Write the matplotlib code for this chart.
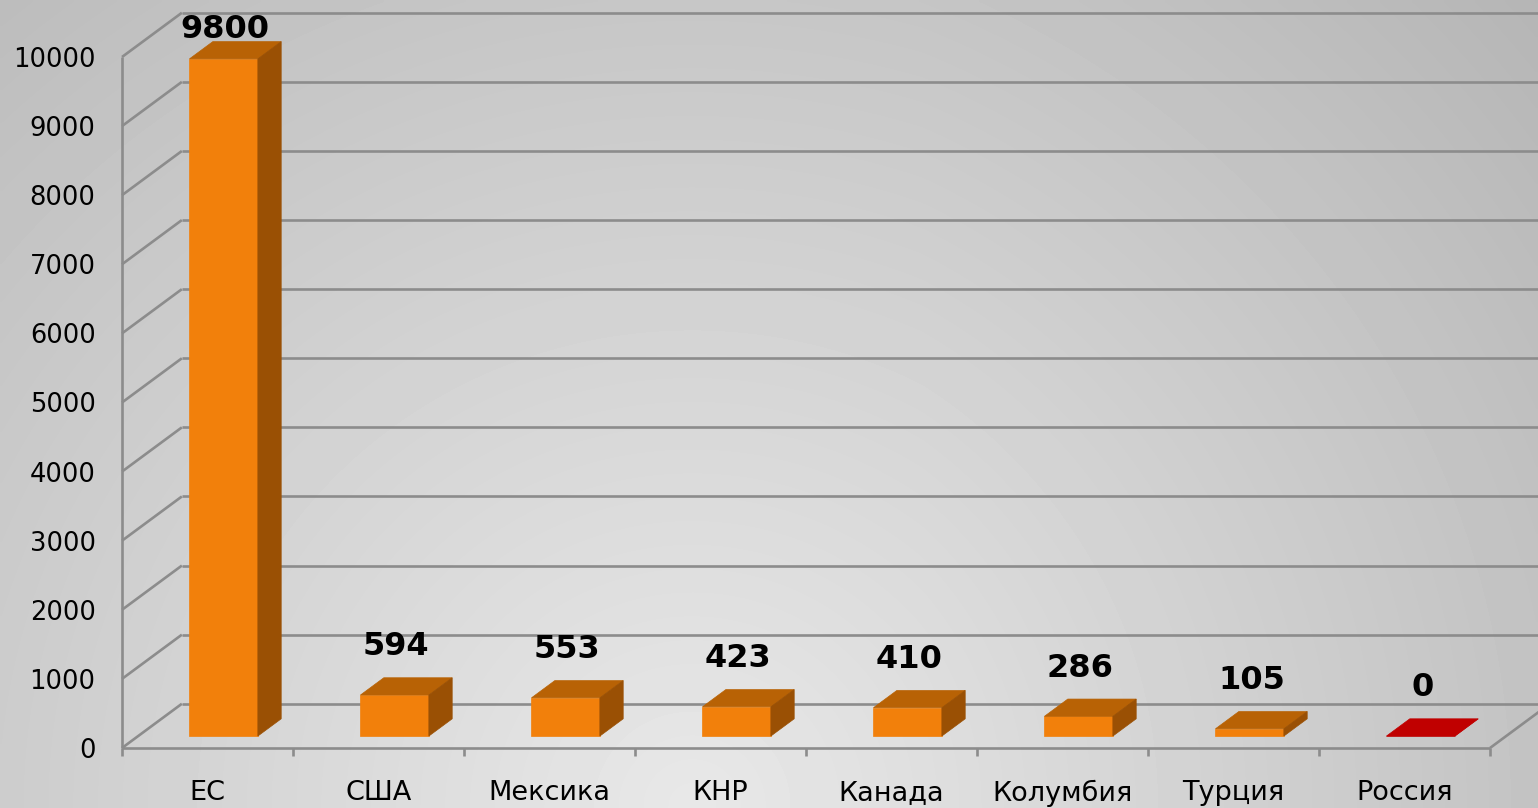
import matplotlib.pyplot as plt
import numpy as np
from matplotlib.patches import Polygon

categories = ['ЕС', 'США', 'Мексика', 'КНР', 'Канада', 'Колумбия', 'Турция', 'Россия']
values = [9800, 594, 553, 423, 410, 286, 105, 0]
yticks = [0, 1000, 2000, 3000, 4000, 5000, 6000, 7000, 8000, 9000, 10000]
highlight = 'Россия'

W, H = 1538, 808
fig = plt.figure(figsize=(W / 100, H / 100), dpi=100)

# фон с радиальным градиентом
bg = fig.add_axes([0, 0, 1, 1])
bg.axis('off')
yy, xx = np.mgrid[0:1:200j, 0:1:400j]
d = np.sqrt(((xx - 0.45) / 0.6) ** 2 + ((yy - 1.0) / 1.1) ** 2)
shade = np.clip(0.91 - 0.145 * d - 0.03 * np.clip(xx - 0.6, 0, 1), 0, 1)
bg.imshow(shade, cmap='gray', vmin=0, vmax=1, extent=[0, 1, 0, 1],
          aspect='auto', origin='upper', interpolation='bilinear')

ax = fig.add_axes([122 / W, (H - 748) / H, 1368 / W, 691 / H])
ax.set_xlim(0, len(categories))
ax.set_ylim(0, 10000)
ax.patch.set_alpha(0)
for s in ax.spines.values():
    s.set_visible(False)

# глубина "3D" в единицах данных
DX, DY = 0.35, 640
f0, f1 = 0.27, 0.66
bw = 0.4
grid_c = '#8c8c8c'
n = len(categories)

def line(xs, ys):
    ax.plot(xs, ys, color=grid_c, lw=1.9, clip_on=False, solid_capstyle='butt', zorder=1)

# задняя стенка и левая стенка
for v in yticks:
    line([DX, n + DX + 0.2], [v + DY, v + DY])
    line([0, DX], [v, v + DY])
line([0, 0], [0, yticks[-1]])
# пол
line([0, n], [0, 0])
line([n, n + DX], [0, DY])
for i in range(n + 1):
    line([i, i], [0, -120])

# столбцы
for i, (cat, v) in enumerate(zip(categories, values)):
    x0 = i + 0.5 - bw / 2 + f0 * DX
    x1 = x0 + bw
    y0 = f0 * DY
    ddx, ddy = (f1 - f0) * DX, (f1 - f0) * DY
    if cat == highlight:
        cols = ('#c00000', '#c00000', '#c00000')
    else:
        cols = ('#f2800b', '#b86205', '#9a5004')
    front = Polygon([(x0, y0), (x1, y0), (x1, y0 + v), (x0, y0 + v)])
    top = Polygon([(x0, y0 + v), (x1, y0 + v), (x1 + ddx, y0 + v + ddy), (x0 + ddx, y0 + v + ddy)])
    side = Polygon([(x1, y0), (x1 + ddx, y0 + ddy), (x1 + ddx, y0 + v + ddy), (x1, y0 + v)])
    for p, c in zip((front, top, side), cols):
        p.set_facecolor(c)
        p.set_edgecolor(c)
        p.set_linewidth(0.5)
        p.set_clip_on(False)
        p.set_zorder(3)
        ax.add_patch(p)
    ax.text(i + 0.5 + f0 * DX + 0.01, min(v + 870, 10400), str(v), ha='center', va='center',
            fontsize=23, fontweight='bold', color='black', clip_on=False, zorder=4)

ax.set_xticks(np.arange(n) + 0.5, categories)
ax.set_yticks(yticks)
ax.tick_params(axis='x', length=0, pad=23, labelsize=19.5)
ax.tick_params(axis='y', length=0, pad=19, labelsize=18.5)

fig.savefig('out.png', dpi=100)
